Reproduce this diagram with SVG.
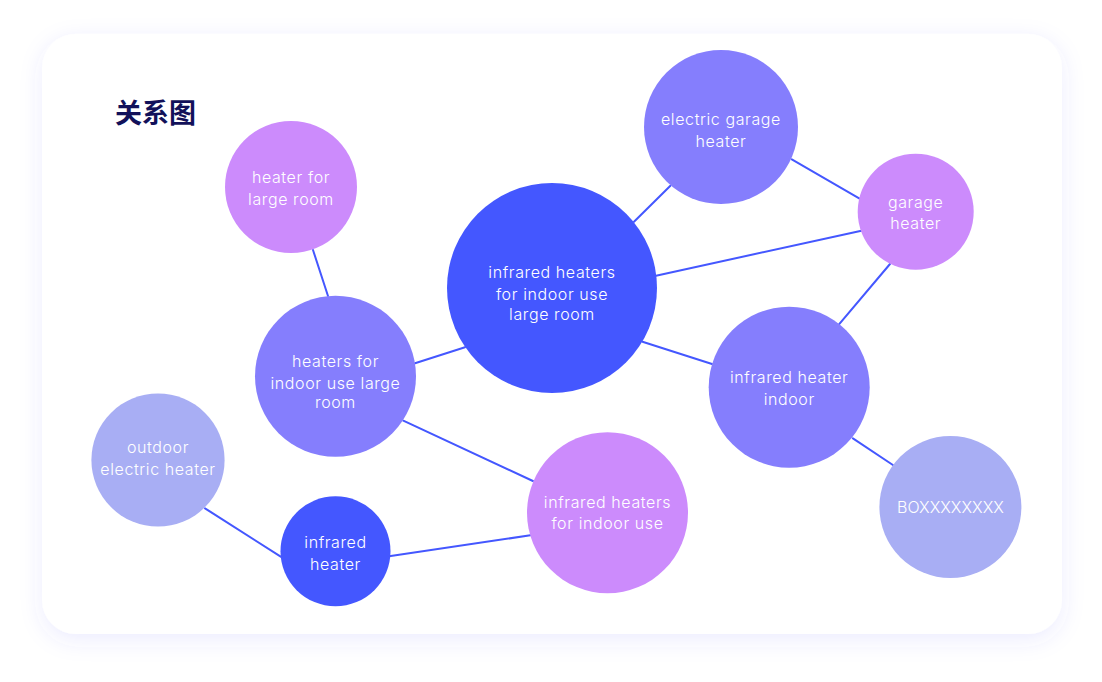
<svg xmlns="http://www.w3.org/2000/svg" width="1102" height="682" viewBox="0 0 1102 682">
  <defs>
    <filter id="shadow" x="-10%" y="-10%" width="120%" height="125%">
      <feDropShadow dx="0" dy="6" stdDeviation="11" flood-color="#4457FF" flood-opacity="0.10"/>
    </filter>
    <style>
      .edge { stroke: #4457FF; stroke-width: 2; fill: none; stroke-linecap: round; }
      .lbl { font-family: Inter, "Noto Sans", "Liberation Sans", sans-serif; font-size: 16px; font-weight: 300; letter-spacing: 0.6px; fill: #FFFFFF; text-anchor: middle; }
      .c-blue { fill: #4457FF; }
      .c-mid { fill: #857EFD; }
      .c-purple { fill: #CC8BFC; }
      .c-pale { fill: #A8AEF4; }
      .title { font-family: "Noto Sans CJK SC", "Noto Sans", sans-serif; font-size: 27px; font-weight: 700; fill: #12115A; }
    </style>
  </defs>
  <rect x="0" y="0" width="1102" height="682" fill="#FFFFFF"/>
  <rect id="card" x="42" y="34" width="1020" height="600" rx="34" ry="34" fill="#FFFFFF" filter="url(#shadow)"/>
  <text id="title" class="title" x="115" y="123">关系图</text>

  <g id="connectors">
    <line class="edge" x1="313" y1="250" x2="328" y2="296"/>
    <line class="edge" x1="670.4" y1="185.7" x2="634" y2="221.7"/>
    <line class="edge" x1="791.8" y1="159.3" x2="859.6" y2="198.7"/>
    <line class="edge" x1="656" y1="275.7" x2="861.4" y2="230.7"/>
    <line class="edge" x1="890" y1="264" x2="839" y2="324.3"/>
    <line class="edge" x1="642.5" y1="341.7" x2="712" y2="364"/>
    <line class="edge" x1="465" y1="347.3" x2="415" y2="363.3"/>
    <line class="edge" x1="403.3" y1="420.7" x2="532.9" y2="481"/>
    <line class="edge" x1="852.9" y1="438.3" x2="892.9" y2="465"/>
    <line class="edge" x1="205" y1="508.3" x2="280.7" y2="556.7"/>
    <line class="edge" x1="390.7" y1="556" x2="530.4" y2="535.3"/>
  </g>

  <g id="node-heater-for-large-room">
    <circle class="c-purple" cx="291" cy="187" r="66"/>
    <text class="lbl" x="291" y="182.5">heater for</text>
    <text class="lbl" x="291" y="204.5">large room</text>
  </g>
  <g id="node-electric-garage-heater">
    <circle class="c-mid" cx="721" cy="127" r="77"/>
    <text class="lbl" x="721" y="125">electric garage</text>
    <text class="lbl" x="721" y="147">heater</text>
  </g>
  <g id="node-garage-heater">
    <circle class="c-purple" cx="915.7" cy="211.7" r="58"/>
    <text class="lbl" x="915.7" y="207.5">garage</text>
    <text class="lbl" x="915.7" y="229">heater</text>
  </g>
  <g id="node-infrared-heaters-indoor-large-room">
    <circle class="c-blue" cx="552" cy="288" r="105"/>
    <text class="lbl" x="552" y="278">infrared heaters</text>
    <text class="lbl" x="552" y="300">for indoor use</text>
    <text class="lbl" x="552" y="320">large room</text>
  </g>
  <g id="node-heaters-indoor-large-room">
    <circle class="c-mid" cx="335.5" cy="376.3" r="80.5"/>
    <text class="lbl" x="335.5" y="366.5">heaters for</text>
    <text class="lbl" x="335.5" y="388.5">indoor use large</text>
    <text class="lbl" x="335.5" y="408">room</text>
  </g>
  <g id="node-infrared-heater-indoor">
    <circle class="c-mid" cx="789.2" cy="387.2" r="80.5"/>
    <text class="lbl" x="789.2" y="382.5">infrared heater</text>
    <text class="lbl" x="789.2" y="404.5">indoor</text>
  </g>
  <g id="node-outdoor-electric-heater">
    <circle class="c-pale" cx="158" cy="460" r="66.6"/>
    <text class="lbl" x="158" y="453">outdoor</text>
    <text class="lbl" x="158" y="475">electric heater</text>
  </g>
  <g id="node-infrared-heaters-indoor">
    <circle class="c-purple" cx="607.5" cy="512.7" r="80.5"/>
    <text class="lbl" x="607.5" y="507.5">infrared heaters</text>
    <text class="lbl" x="607.5" y="529">for indoor use</text>
  </g>
  <g id="node-infrared-heater">
    <circle class="c-blue" cx="335.5" cy="551.3" r="55"/>
    <text class="lbl" x="335.5" y="548">infrared</text>
    <text class="lbl" x="335.5" y="570">heater</text>
  </g>
  <g id="node-box">
    <circle class="c-pale" cx="950.4" cy="507" r="71"/>
    <text class="lbl" x="950.4" y="513" style="letter-spacing:0">BOXXXXXXXX</text>
  </g>
</svg>
